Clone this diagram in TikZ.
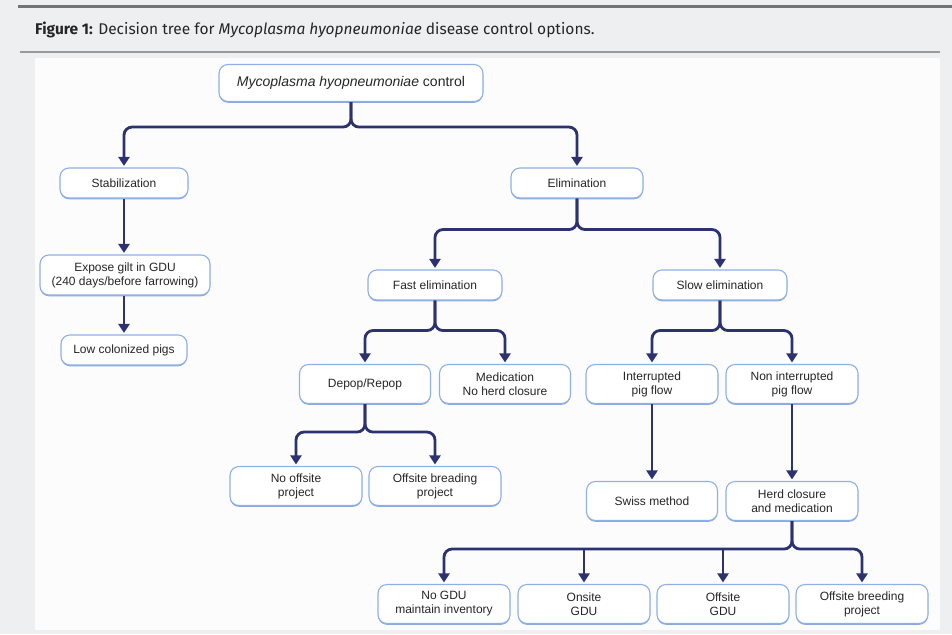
\documentclass[tikz,border=0pt]{standalone}
\usepackage{fontspec}
\setmainfont{Liberation Sans}
\newfontfamily\capfont{Fira Sans}
\usetikzlibrary{arrows.meta,shadows}
\definecolor{navy}{HTML}{2C3170}
\definecolor{boxline}{HTML}{8EB0E6}
\definecolor{boxshadow}{HTML}{5C86D0}
\definecolor{txt}{HTML}{262626}
\definecolor{pagebg}{HTML}{EEEFF1}
\definecolor{panel}{HTML}{FCFCFD}
\tikzset{
  box/.style={draw=boxline, line width=1.1pt, rounded corners=9pt, fill=white,
    minimum width=132pt, minimum height=39pt, align=center, text=txt,
    font=\fontsize{12}{14}\selectfont, inner sep=2pt,
    drop shadow={shadow xshift=0pt, shadow yshift=-1.3pt, fill=boxshadow, opacity=0.7}},
  sbox/.style={box, minimum height=30pt},
  arr/.style={draw=navy, line width=2.8pt, rounded corners=8pt,
    -{Triangle[length=9pt,width=11pt]}, shorten >=1.5pt}
}
\begin{document}
\begin{tikzpicture}[x=1pt,y=-1pt]
\useasboundingbox (0,0) rectangle (952,634);
\fill[pagebg] (0,0) rectangle (952,634);
\draw[draw=black!55, line width=3pt] (18,7) -- (952,7);
\node[anchor=west, text=txt, font=\capfont\fontsize{15.5}{17}\selectfont, inner sep=0pt] (cap) at (35,30)
  {\textbf{Figure 1:} Decision tree for \textit{Mycoplasma hyopneumoniae} disease control options.};
\draw[draw=black!40, line width=1.8pt] (20,52) -- (940,52);
\fill[panel] (35,58) rectangle (940,630);

\node[box, minimum width=264pt, minimum height=37pt, font=\fontsize{14}{16}\selectfont] (root) at (351,83) {\textit{Mycoplasma hyopneumoniae} control};
\node[sbox, minimum width=128pt] (stab) at (124,183) {Stabilization};
\node[sbox] (elim) at (577,183) {Elimination};
\node[box, minimum width=170pt, minimum height=40pt] (expose) at (125,275) {Expose gilt in GDU\\(240 days/before farrowing)};
\node[sbox, minimum width=126pt] (low) at (124,350) {Low colonized pigs};
\node[sbox, minimum width=134pt] (fast) at (435,285) {Fast elimination};
\node[sbox, minimum width=134pt] (slow) at (720,285) {Slow elimination};
\node[box, minimum width=131pt] (depop) at (365,384) {Depop/Repop};
\node[box, minimum width=131pt] (medi) at (505,384) {Medication\\No herd closure};
\node[box] (inter) at (652,384) {Interrupted\\pig flow};
\node[box] (nonint) at (792,384) {Non interrupted\\pig flow};
\node[box] (nooff) at (296,486) {No offsite\\project};
\node[box] (offbrea) at (435,486) {Offsite breading\\project};
\node[box, minimum width=131pt] (swiss) at (652,501) {Swiss method};
\node[box] (herd) at (792,501) {Herd closure\\and medication};
\node[box] (nogdu) at (444,604) {No GDU\\maintain inventory};
\node[box] (onsite) at (584,604) {Onsite\\GDU};
\node[box] (offgdu) at (723,604) {Offsite\\GDU};
\node[box] (offbree) at (862,604) {Offsite breeding\\project};

% connectors
\draw[arr] (root.south) -- ++(0,25) -| (stab.north);
\draw[arr] (root.south) -- ++(0,25) -| (elim.north);
\draw[arr] (stab.south) -- (stab.south |- expose.north);
\draw[arr] (stab.south |- expose.south) -- (low.north);
\draw[arr] (elim.south) -- ++(0,31) -| (fast.north);
\draw[arr] (elim.south) -- ++(0,31) -| (slow.north);
\draw[arr] (fast.south) -- ++(0,30) -| (depop.north);
\draw[arr] (fast.south) -- ++(0,30) -| (medi.north);
\draw[arr] (slow.south) -- ++(0,30) -| (inter.north);
\draw[arr] (slow.south) -- ++(0,30) -| (nonint.north);
\draw[arr] (depop.south) -- ++(0,28) -| (nooff.north);
\draw[arr] (depop.south) -- ++(0,28) -| (offbrea.north);
\draw[arr] (inter.south) -- (swiss.north);
\draw[arr] (nonint.south) -- (herd.north);
\path (herd.south) ++(0,28) coordinate (hj);
\draw[arr] (herd.south) -- (hj) -| (nogdu.north);
\draw[arr] (herd.south) -- (hj) -| (offbree.north);
\draw[arr] (hj -| onsite.north) -- (onsite.north);
\draw[arr] (hj -| offgdu.north) -- (offgdu.north);
\end{tikzpicture}
\end{document}
